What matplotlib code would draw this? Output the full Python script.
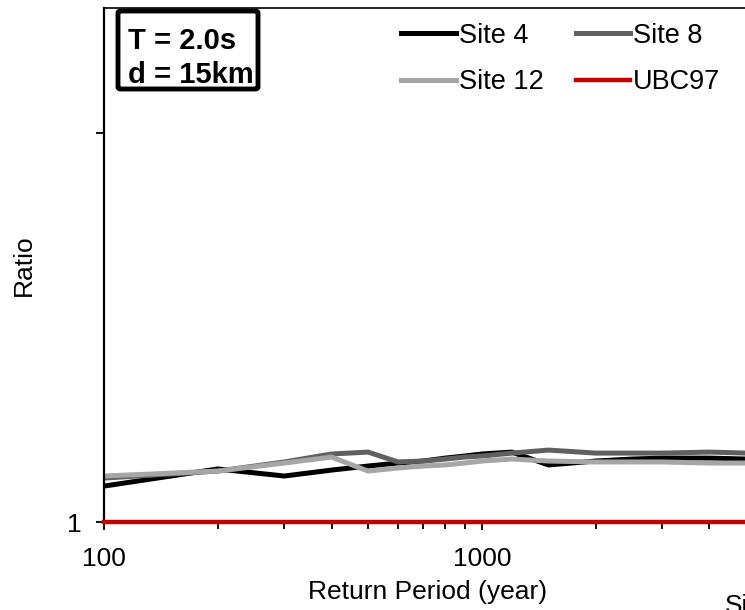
import matplotlib
matplotlib.use("Agg")
import matplotlib.pyplot as plt
from matplotlib.patches import FancyBboxPatch
from matplotlib.ticker import NullLocator, FixedLocator, LogLocator, NullFormatter

plt.rcParams['font.family'] = ['Liberation Sans', 'DejaVu Sans']

# return periods (years)
periods = [100, 200, 300, 400, 500, 600, 700, 800, 900, 1000, 1200, 1500, 2000, 2500, 3000, 4000, 5000]

# ratios
site4 = [1.237, 1.369, 1.313, 1.360, 1.393, 1.418, 1.435, 1.460, 1.478, 1.496, 1.513, 1.402, 1.435, 1.452, 1.460, 1.460, 1.452]
site8 = [1.297, 1.352, 1.427, 1.496, 1.513, 1.427, 1.435, 1.452, 1.469, 1.478, 1.504, 1.531, 1.504, 1.504, 1.504, 1.513, 1.504]
site12 = [1.313, 1.352, 1.418, 1.469, 1.352, 1.377, 1.393, 1.402, 1.418, 1.435, 1.452, 1.435, 1.427, 1.427, 1.427, 1.418, 1.418]
ubc97 = [1.0] * len(periods)

fig = plt.figure(figsize=(7.45, 6.1), dpi=100)
ax = fig.add_axes([104 / 745, 88 / 610, 642 / 745, 514 / 610])

ax.plot(periods, site4, color='black', lw=3.6, label='Site 4')
ax.plot(periods, site8, color='#606060', lw=3.6, label='Site 8')
ax.plot(periods, site12, color='#a6a6a6', lw=3.6, label='Site 12')
ax.plot(periods, ubc97, color='#c00000', lw=3.2, label='UBC97', clip_on=False, zorder=5)

ax.set_xscale('log')
ax.set_yscale('log')
ax.set_xlim(100, 5000)
ax.set_ylim(1, 21)

ax.xaxis.set_major_locator(FixedLocator([100, 1000]))
ax.xaxis.set_major_formatter(plt.FixedFormatter(['100', '1000']))
ax.xaxis.set_minor_locator(LogLocator(base=10, subs=range(2, 10)))
ax.xaxis.set_minor_formatter(NullFormatter())
ax.yaxis.set_major_locator(FixedLocator([1, 10]))
ax.yaxis.set_major_formatter(plt.FixedFormatter(['1', '']))
ax.yaxis.set_minor_locator(NullLocator())

ax.tick_params(axis='both', which='major', direction='out', length=6, width=1.3, labelsize=19)
ax.tick_params(axis='x', which='major', pad=12)
ax.tick_params(axis='y', which='major', pad=10)
ax.tick_params(axis='x', which='minor', direction='out', length=5, width=1.3)

for side in ['left', 'bottom']:
    ax.spines[side].set_linewidth(1.6)
ax.spines['top'].set_linewidth(1.2)
ax.spines['right'].set_visible(False)

ax.set_xlabel('Return Period (year)', fontsize=19)
ax.xaxis.set_label_coords((428 - 104) / 642, -(604 - 522) / 514)
ax.xaxis.label.set_va('bottom')
ax.set_ylabel('Ratio', fontsize=19)
ax.yaxis.set_label_coords(-(104 - 36) / 642, 0.5)

# annotation box
box = FancyBboxPatch((14 / 642, (522 - 89) / 514), 140 / 642, 78 / 514,
                     boxstyle='round,pad=0,rounding_size=0.004', transform=ax.transAxes,
                     fc='white', ec='black', lw=3.5, zorder=6)
ax.add_patch(box)
ax.text(24 / 642, (522 - 49) / 514, 'T = 2.0s', transform=ax.transAxes, fontsize=21,
        fontweight='bold', va='baseline', ha='left', zorder=7)
ax.text(24 / 642, (522 - 83) / 514, 'd = 15km', transform=ax.transAxes, fontsize=21,
        fontweight='bold', va='baseline', ha='left', zorder=7)

h, l = ax.get_legend_handles_labels()
order = [0, 2, 1, 3]
ax.legend([h[i] for i in order], [l[i] for i in order], ncol=2, frameon=False,
          loc='upper left', bbox_to_anchor=(0.44, 1.0), fontsize=19.5,
          handlelength=2.0, handletextpad=0.12, columnspacing=1.18, labelspacing=0.75,
          borderaxespad=0.15)

fig.text(725 / 745, -3 / 610, 'Site', fontsize=19, ha='left', va='baseline')

fig.savefig('out.png', dpi=100)
